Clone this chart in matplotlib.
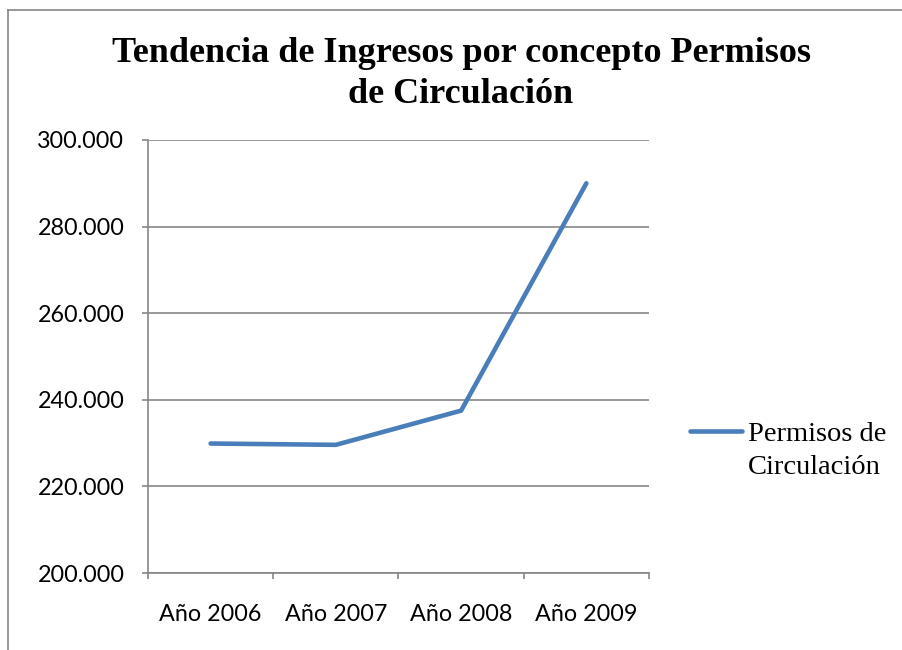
import matplotlib
matplotlib.use("Agg")
import matplotlib.pyplot as plt
from matplotlib.lines import Line2D
from matplotlib.ticker import FixedLocator, FuncFormatter

categories = ["Año 2006", "Año 2007", "Año 2008", "Año 2009"]
values = [229.9, 229.6, 237.5, 290.0]
series_name_lines = ["Permisos de", "Circulación"]
title = "Tendencia de Ingresos por concepto Permisos\nde Circulación"
yticks = [200, 220, 240, 260, 280, 300]

W, H = 903, 650
fig = plt.figure(figsize=(W / 100, H / 100), dpi=100)
fig.patch.set_facecolor("white")

gray = "#868686"
# outer chart border (left and top visible)
fig.add_artist(Line2D([8 / W, 8 / W], [0, 1 - 10 / H], transform=fig.transFigure, color=gray, lw=1.2))
fig.add_artist(Line2D([8 / W, 1], [1 - 10 / H, 1 - 10 / H], transform=fig.transFigure, color=gray, lw=1.2))

left, right, top, bottom = 148, 649, 140, 573
ax = fig.add_axes([left / W, 1 - bottom / H, (right - left) / W, (bottom - top) / H])

x = list(range(len(categories)))
line, = ax.plot(x, values, color="#4A7EBB", lw=3.3, solid_capstyle="round",
                solid_joinstyle="round")

ax.set_xlim(-0.5, len(categories) - 0.5)
ax.set_ylim(yticks[0], yticks[-1])
ax.set_yticks(yticks)
ax.yaxis.set_major_formatter(FuncFormatter(lambda v, p: f"{int(v)}.000"))
ax.grid(axis="y", color=gray, lw=1.2)
ax.set_axisbelow(True)

ax.set_xticks(x)
ax.set_xticklabels(categories)
ax.xaxis.set_minor_locator(FixedLocator([i - 0.5 for i in range(len(categories) + 1)]))
ax.tick_params(axis="x", which="major", length=0, pad=22)
ax.tick_params(axis="x", which="minor", length=4, width=1.2, color=gray, direction="out")
ax.tick_params(axis="y", length=4, width=1.2, color=gray, direction="out", pad=13)

for lab in ax.get_xticklabels() + ax.get_yticklabels():
    lab.set_fontfamily("Lato")
    lab.set_fontsize(16.8)
    lab.set_color("black")

for s in ["top", "right"]:
    ax.spines[s].set_visible(False)
for s in ["left", "bottom"]:
    ax.spines[s].set_color(gray)
    ax.spines[s].set_linewidth(1.2)

fig.text(461 / W, 1 - 74 / H, title, ha="center", va="center",
         fontfamily="Liberation Serif", fontweight="bold", fontsize=26, linespacing=1.32)

leg_fs = 20.5
leg = fig.legend(handles=[line], labels=[series_name_lines[0]], loc="center left",
                 bbox_to_anchor=(690 / W, 1 - 434 / H), frameon=False,
                 prop={"family": "Liberation Serif", "size": leg_fs},
                 handlelength=1.83, handletextpad=0.21, borderaxespad=0, borderpad=0)

fig.canvas.draw()
tb = leg.get_texts()[0].get_window_extent()
fig.text(tb.x0 / W, (tb.y0 - 33) / H, series_name_lines[1], ha="left", va="bottom",
         fontfamily="Liberation Serif", fontsize=leg_fs)

fig.savefig("out.png", dpi=100, facecolor="white")
